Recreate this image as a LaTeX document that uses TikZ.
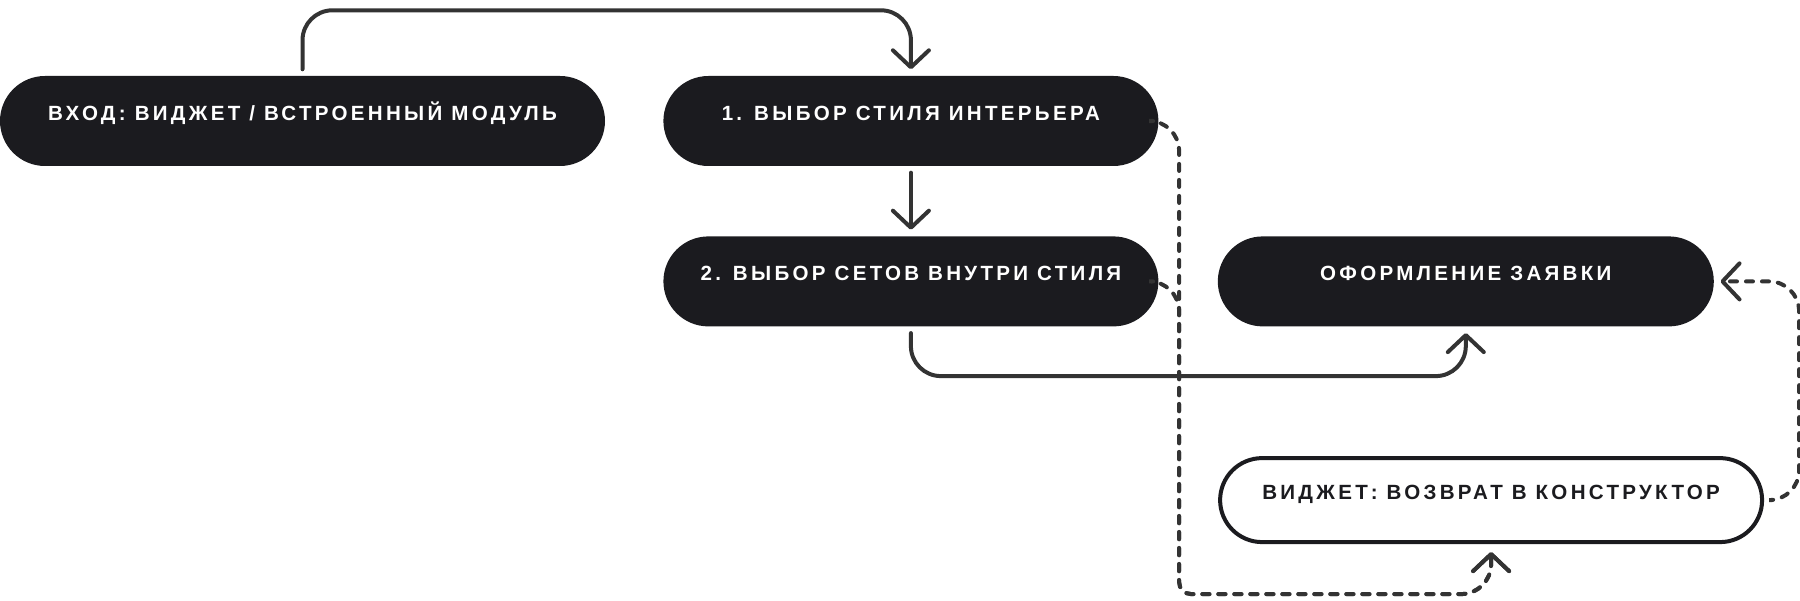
\documentclass[tikz,border=0pt]{standalone}
\usepackage{fontspec}
\newfontfamily\lblfont{Liberation Sans}[LetterSpace=16]
\usetikzlibrary{arrows.meta,positioning,calc}
\definecolor{nodeblack}{HTML}{1B1B1F}
\definecolor{linegrey}{HTML}{333333}
\newcommand{\lbl}{\lblfont\bfseries\fontsize{5.85pt}{7pt}\selectfont}

\begin{document}
\begin{tikzpicture}[
    blk/.style={fill=nodeblack, draw=none, rounded corners=0.45cm, inner sep=0pt,
                minimum height=0.9cm, text=white, font=\lbl,
                text height=0.16cm, text depth=0.17cm},
    wbox/.style={draw=nodeblack, line width=0.04cm, fill=white, rounded corners=0.42cm,
                 inner sep=0pt, minimum height=0.84cm, text=nodeblack, font=\lbl,
                 text height=0.16cm, text depth=0.17cm},
    flow/.style={-{Straight Barb[length=1.7mm,width=3.6mm,round]}, line width=0.04cm,
                 draw=linegrey, line cap=round, rounded corners=0.3cm,
                 shorten >=0.06cm, shorten <=0.06cm},
    dflow/.style={flow, dash pattern=on 0.07cm off 0.09cm}]
\useasboundingbox (0,0) rectangle (18,-6.01);
\node[blk, minimum width=6.05cm] (in) at (3.025,-1.21) {ВХОД: ВИДЖЕТ / ВСТРОЕННЫЙ МОДУЛЬ};
\node[blk, minimum width=4.95cm, right=0.57cm of in] (s1) {1. ВЫБОР СТИЛЯ ИНТЕРЬЕРА};
\node[blk, minimum width=4.95cm, below=0.69cm of s1] (s2) {2. ВЫБОР СЕТОВ ВНУТРИ СТИЛЯ};
\node[blk, minimum width=4.96cm, right=0.58cm of s2] (ord) {ОФОРМЛЕНИЕ ЗАЯВКИ};
\node[wbox, minimum width=5.42cm, below right=1.29cm and 0.01cm of ord.south west] (wg) {ВИДЖЕТ: ВОЗВРАТ В КОНСТРУКТОР};
\coordinate (wgb) at ([yshift=-0.5cm]wg.south);
\coordinate (dv1) at ([xshift=0.2cm]s1.east);
\coordinate (dv2) at ([xshift=0.2cm]s2.east);
\coordinate (dbl) at (dv1 |- wgb);
% main route
\draw[flow] (in.north) -- ++(0,0.65) -| (s1.north);
\draw[flow] (s1) -- (s2);
\draw[flow] (s2.south) -- ++(0,-0.49) -| (ord.south);
% widget return
\draw[dflow, shorten >=0.08cm] (s1.east) -- (dv1) [rounded corners=0.12cm] -- (dbl)
    [rounded corners=0.3cm] -- (wgb) -- (wg.south);
\draw[dflow, shorten >=0.08cm] (s2.east) -- (dv2) [rounded corners=0.12cm] -- (dbl)
    [rounded corners=0.3cm] -- (wgb) -- (wg.south);
\draw[dflow, shorten <=0.08cm] (wg.east) -- ++(0.35,0) |- (ord.east);
\end{tikzpicture}
\end{document}
